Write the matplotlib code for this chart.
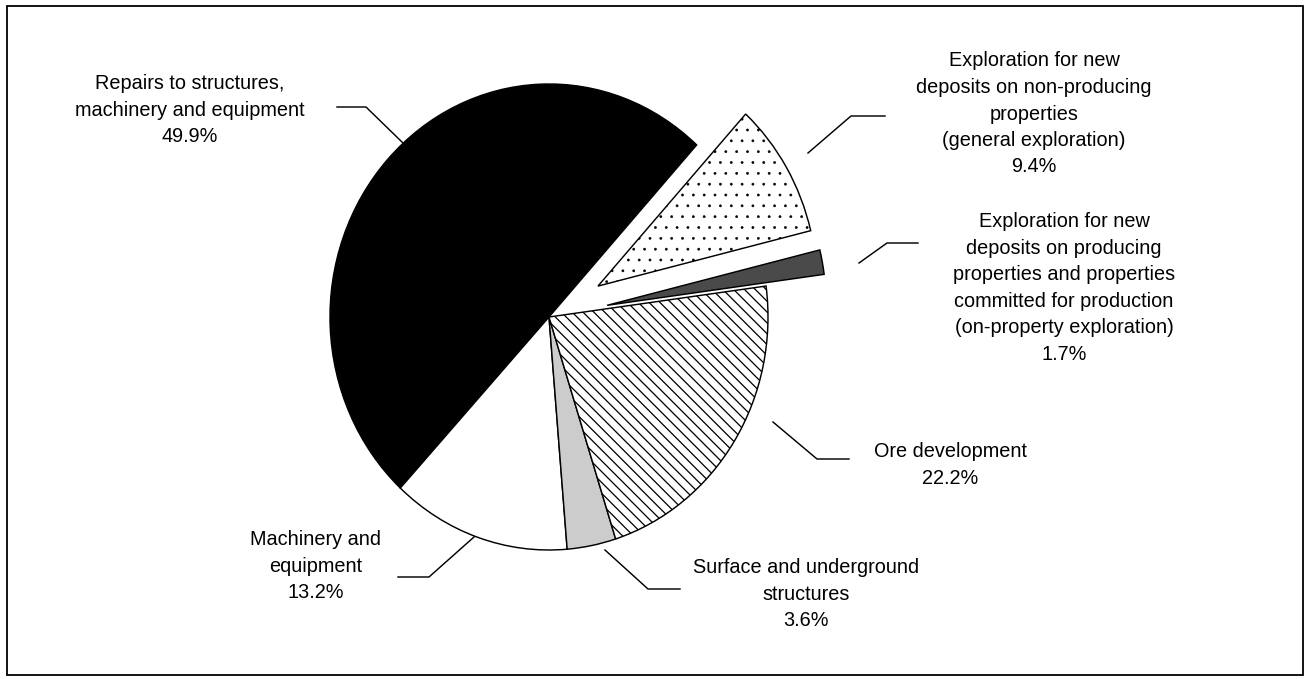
"""Pie chart of capital and repair expenditures in mining, by type of work.

Pie with two exploded exploration slices, black-and-white fills/hatches
and labels connected by elbow leader lines, framed by a thin border.
"""
import matplotlib

matplotlib.use("Agg")
import matplotlib.pyplot as plt
from matplotlib.patches import Rectangle

# ── Data ───────────────────────────────────────────────────────────────

CATEGORIES = [
    "Repairs to structures,\nmachinery and equipment",
    "Machinery and\nequipment",
    "Surface and underground\nstructures",
    "Ore development",
    "Exploration for new\ndeposits on producing\nproperties and properties\n"
    "committed for production\n(on-property exploration)",
    "Exploration for new\ndeposits on non-producing\nproperties\n(general exploration)",
]
SHARES = [49.9, 13.2, 3.6, 22.2, 1.7, 9.4]
EXPLODE = [0, 0, 0, 0, 0.27, 0.26]

# ── Style / layout ─────────────────────────────────────────────────────

BSL = chr(92)  # backslash, kept out of string escapes
FACES = ["black", "white", "#cccccc", "white", "#4a4a4a", "white"]
HATCHES = [None, None, None, BSL * 4, None, ".."]
HATCH_LW = [None, None, None, 0.7, None, 0.3]

W, H, DPI = 1310, 679, 130
CX, CY, RX, RY = 549, 317, 219, 233   # pie centre and radii, pixels
START = 47.6

# text centre (x, y) and leader polyline, all in pixels (y down)
LAYOUT = [
    (190, 110, [(337, 107), (366, 107), (403, 143)]),
    (316, 566, [(398, 577), (429, 577), (474, 537)]),
    (806, 594, [(680, 589), (648, 589), (605, 550)]),
    (950, 465, [(849, 459), (817, 459), (773, 422)]),
    (1064, 288, [(918, 243), (887, 243), (859, 263)]),
    (1034, 114, [(885, 116), (851, 116), (808, 153)]),
]

plt.rcParams["font.family"] = ["Liberation Sans", "DejaVu Sans"]
plt.rcParams["hatch.linewidth"] = 0.7


def _hatch_width(patch, lw):
    # per-patch hatch width where this matplotlib allows it
    if hasattr(patch, "set_hatch_linewidth"):
        patch.set_hatch_linewidth(lw)
    elif hasattr(patch, "_hatch_linewidth"):
        patch._hatch_linewidth = lw


def main():
    fig = plt.figure(figsize=(W / DPI, H / DPI), dpi=DPI)
    fig.patch.set_facecolor("white")

    ax = fig.add_axes([(CX - RX) / W, 1 - (CY + RY) / H, 2 * RX / W, 2 * RY / H])
    wedges, _ = ax.pie(
        SHARES, explode=EXPLODE, colors=FACES, startangle=START,
        wedgeprops=dict(edgecolor="black", linewidth=0.8),
    )
    for w, hatch, hlw in zip(wedges, HATCHES, HATCH_LW):
        w.set_clip_on(False)
        if hatch:
            w.set_hatch(hatch)
            _hatch_width(w, hlw)
    # the original pie is slightly taller than wide
    ax.set_aspect("auto")
    ax.set_xlim(-1, 1)
    ax.set_ylim(-1, 1)

    # overlay in pixel coordinates for labels, leaders and frame
    ov = fig.add_axes([0, 0, 1, 1])
    ov.set_xlim(0, W)
    ov.set_ylim(H, 0)
    ov.axis("off")

    for cat, share, (tx, ty, leader) in zip(CATEGORIES, SHARES, LAYOUT):
        ov.text(tx, ty, f"{cat}\n{share:.1f}%", ha="center", va="center",
                fontsize=11, linespacing=1.5, color="black")
        xs, ys = zip(*leader)
        ov.plot(xs, ys, color="black", linewidth=0.8)

    ov.add_patch(Rectangle((7, 6), W - 14, H - 10, fill=False,
                           edgecolor="black", linewidth=1.0))

    fig.savefig("out.png", dpi=DPI, facecolor="white")


if __name__ == "__main__":
    main()
